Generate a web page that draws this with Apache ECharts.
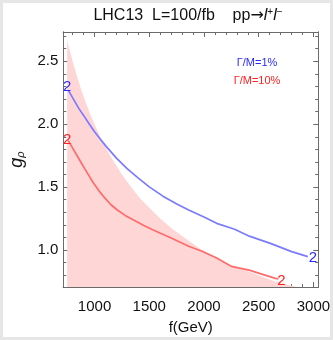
<!DOCTYPE html>
<html>
<head>
<meta charset="utf-8">
<script src="https://cdn.jsdelivr.net/npm/echarts@6/dist/echarts.min.js"></script>
<style>
html,body{margin:0;padding:0;background:#e6e6e6;}
#chart{width:333px;height:340px;}
</style>
</head>
<body>
<div id="chart"></div>
<script>
// ---- data ----
const titleText = 'LHC13  L=100/fb    pp';
const xName = 'f(GeV)';
const legendLabels = ['Γ/M=1%', 'Γ/M=10%'];
const curveLabel = '2';

const xTicks = [1000, 1500, 2000, 2500, 3000];
const yTicks = [1.0, 1.5, 2.0, 2.5];

// shaded region upper edge (f, g)
const bandF = [750, 775, 800, 840, 880, 920, 965, 1020, 1074, 1150, 1250, 1330, 1417, 1500, 1600, 1714, 1850, 1982, 2116, 2250, 2450, 2650, 2750, 2850];
const bandG = [2.67, 2.58, 2.50, 2.38, 2.27, 2.17, 2.07, 1.96, 1.86, 1.74, 1.60, 1.505, 1.41, 1.335, 1.25, 1.165, 1.08, 1.0, 0.94, 0.88, 0.815, 0.75, 0.727, 0.706];

// Γ/M = 1% (blue)
const blueF = [760, 790, 820, 860, 900, 950, 1000, 1050, 1100, 1150, 1200, 1300, 1400, 1500, 1625, 1760, 1860, 1866, 1875, 2000, 2116, 2280, 2414, 2607, 2801, 2949];
const blueG = [2.27, 2.225, 2.18, 2.12, 2.07, 2.003, 1.94, 1.885, 1.83, 1.78, 1.73, 1.645, 1.572, 1.502, 1.428, 1.362, 1.318, 1.326, 1.315, 1.262, 1.212, 1.165, 1.11, 1.053, 0.987, 0.947];

// Γ/M = 10% (red)
const redF = [760, 800, 850, 911, 960, 1000, 1050, 1089, 1150, 1208, 1280, 1357, 1450, 1536, 1700, 1860, 1866, 1875, 1982, 2116, 2250, 2413, 2652, 2680];
const redG = [1.87, 1.81, 1.735, 1.645, 1.575, 1.52, 1.46, 1.418, 1.36, 1.318, 1.275, 1.238, 1.195, 1.159, 1.095, 1.03, 1.034, 1.025, 0.99, 0.936, 0.87, 0.84, 0.775, 0.77];

const xMin = 714, xMax = 3044, yMin = 0.706, yMax = 2.733;

const BLUE_LINE = '#7b7bff', RED_LINE = '#ff6b6b';
const BLUE_TXT = '#2a2aff', RED_TXT = '#ff2020';
const BAND = '#ffd6d6';
const FRAME = '#6a6a6a';

function pairs(xs, ys){ return xs.map((x,i)=>[x, ys[i]]); }

function withLabels(xs, ys, color, startOff, endOff){
  const d = pairs(xs, ys).map(p=>({value:p}));
  const lab = (off)=>({show:true, formatter:curveLabel, position:'inside', offset:off,
      color:color, fontSize:15, fontFamily:'Liberation Sans'});
  d[0].label = lab(startOff);
  d[d.length-1].label = lab(endOff);
  return d;
}

const chart = echarts.init(document.getElementById('chart'), null, {renderer:'canvas'});

const font = 'Liberation Sans';
function xAxisDef(pos, step, tickLen, labels){
  return {
    type:'value', position:pos, min:xMin, max:xMax, minInterval:step, maxInterval:step, splitNumber:5,
    axisLine:{show:true, onZero:false, lineStyle:{color:FRAME, width:1}},
    axisTick:{show:true, inside:true, length:tickLen, lineStyle:{color:FRAME}},
    axisLabel:{show:labels, showMinLabel:false, showMaxLabel:false, margin:12,
      color:'#111', fontSize:15, fontFamily:font, formatter:v=>xTicks.includes(v)?String(v):''},
    splitLine:{show:false},
    name: labels ? xName : '', nameLocation:'middle', nameGap:33,
    nameTextStyle:{color:'#111', fontSize:15, fontFamily:font}
  };
}
function yAxisDef(pos, step, tickLen, labels){
  return {
    type:'value', position:pos, min:yMin, max:yMax, minInterval:step, maxInterval:step, splitNumber:5,
    axisLine:{show:true, onZero:false, lineStyle:{color:FRAME, width:1}},
    axisTick:{show:true, inside:true, length:tickLen, lineStyle:{color:FRAME}},
    axisLabel:{show:labels, showMinLabel:false, showMaxLabel:false, margin:5,
      color:'#111', fontSize:15, fontFamily:font,
      formatter:v=>yTicks.some(t=>Math.abs(t-v)<1e-6)?v.toFixed(1):''},
    splitLine:{show:false},
    name: labels ? '{g|g}{s|ρ}' : '', nameLocation:'middle', nameGap:36, nameRotate:90,
    nameTextStyle:{color:'#111', fontFamily:font,
      rich:{g:{fontSize:18, fontStyle:'italic', fontFamily:font, color:'#111'},
            s:{fontSize:11, fontStyle:'italic', fontFamily:font, color:'#111', verticalAlign:'bottom', padding:[8,0,0,0]}}}
  };
}

const option = {
  animation:false,
  backgroundColor:'#e6e6e6',
  grid:{left:58, right:14, top:32, bottom:53, containLabel:false},
  xAxis:[
    xAxisDef('bottom', 500, 5, true),
    xAxisDef('bottom', 100, 3, false),
    xAxisDef('top', 500, 5, false),
    xAxisDef('top', 100, 3, false)
  ],
  yAxis:[
    yAxisDef('left', 0.5, 5, true),
    yAxisDef('left', 0.1, 3, false),
    yAxisDef('right', 0.5, 5, false),
    yAxisDef('right', 0.1, 3, false)
  ],
  graphic:[
    {type:'rect', z:-10, silent:true, shape:{x:3, y:3, width:327, height:334}, style:{fill:'#ffffff'}},
    {type:'text', x:188, y:16, style:{
      text:'{a|'+titleText+'}{r|→}{i|l}{s|+}{i|l}{s|−}', align:'center', verticalAlign:'middle',
      rich:{a:{fontSize:16, fontFamily:font, fill:'#111'},
            r:{fontSize:16, fontFamily:'DejaVu Sans', fill:'#111'},
            i:{fontSize:16, fontFamily:font, fontStyle:'italic', fill:'#111'},
            s:{fontSize:10, fontFamily:font, fill:'#111', verticalAlign:'top', padding:[0,0,8,0]}}}},
    {type:'text', x:257, y:63, style:{text:legendLabels[0], align:'center', verticalAlign:'middle',
      fontSize:11, fontFamily:font, fill:BLUE_TXT}},
    {type:'text', x:257, y:81, style:{text:legendLabels[1], align:'center', verticalAlign:'middle',
      fontSize:11, fontFamily:font, fill:RED_TXT}}
  ],
  series:[
    {type:'line', name:'band', data:pairs(bandF, bandG), showSymbol:false, symbol:'none',
     smooth:false, lineStyle:{width:0},
     areaStyle:{color:BAND, opacity:1, origin:'start'}, z:1, silent:true},
    {type:'line', name:legendLabels[0], data:withLabels(blueF, blueG, BLUE_TXT, [-1,-3], [5,1]),
     symbol:'circle', symbolSize:0.01, showSymbol:true, smooth:false,
     lineStyle:{color:BLUE_LINE, width:1.7}, itemStyle:{color:BLUE_LINE}, z:3, silent:true},
    {type:'line', name:legendLabels[1], data:withLabels(redF, redG, RED_TXT, [-1,-1], [3,2]),
     symbol:'circle', symbolSize:0.01, showSymbol:true, smooth:false,
     lineStyle:{color:RED_LINE, width:1.7}, itemStyle:{color:RED_LINE}, z:3, silent:true}
  ]
};
chart.setOption(option);
</script>
</body>
</html>
